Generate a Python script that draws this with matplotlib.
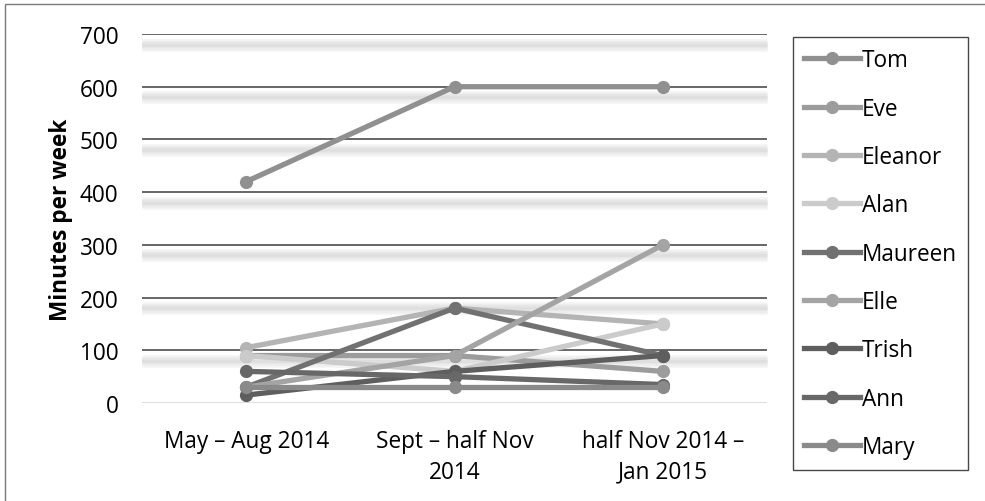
import matplotlib.pyplot as plt
import matplotlib.transforms as mtransforms
from matplotlib.lines import Line2D

periods = ["May – Aug 2014", "Sept – half Nov\n2014", "half Nov 2014 –\nJan 2015"]
names = ["Tom", "Eve", "Eleanor", "Alan", "Maureen", "Elle", "Trish", "Ann", "Mary"]

tom = [420, 600, 600]
eve = [90, 90, 60]
eleanor = [105, 180, 150]
alan = [90, 60, 150]
maureen = [30, 180, 90]
elle = [30, 90, 300]
trish = [15, 60, 90]
ann = [60, 50, 35]
mary = [30, 30, 30]
series = [tom, eve, eleanor, alan, maureen, elle, trish, ann, mary]

colors = ["#909090", "#9c9c9c", "#b4b4b4", "#cbcbcb", "#717171",
          "#a4a4a4", "#5e5e5e", "#686868", "#8a8a8a"]

yticks = [0, 100, 200, 300, 400, 500, 600, 700]

plt.rcParams["font.family"] = ["Open Sans", "DejaVu Sans"]
fs = 16.3

fig = plt.figure(figsize=(9.85, 5.02), dpi=100)
ax = fig.add_axes([142 / 985, 98 / 502, 625 / 985, 369 / 502])

x = list(range(len(periods)))

# gridlines with a soft drop shadow underneath
shadow = ax.get_yaxis_transform() + mtransforms.ScaledTranslation(0, -7.6 / 72, fig.dpi_scale_trans)
for y in yticks[1:]:
    for lw, c in [(9, "#f4f4f4"), (6.5, "#ededed"), (4, "#e5e5e5"), (2, "#dfdfdf")]:
        ax.plot([0, 1], [y, y], transform=shadow, color=c, lw=lw, solid_capstyle="butt",
                zorder=0.5, clip_on=False)
    ax.axhline(y, color="#5a5a5a", lw=1.3, zorder=1)
ax.axhline(0, color="#d9d9d9", lw=1.3, zorder=1)

for name, vals, c in zip(names, series, colors):
    ax.plot(x, vals, color=c, lw=3.8, marker="o", markersize=9.5,
            markeredgewidth=0, label=name, zorder=3, solid_capstyle="round")

ax.set_xlim(-0.5, len(periods) - 0.5)
ax.set_ylim(0, 700)
ax.set_yticks(yticks)
ax.set_xticks(x)
ax.set_xticklabels(periods, fontsize=fs, linespacing=1.36)
ax.tick_params(axis="y", labelsize=fs, length=0, pad=17)
ax.tick_params(axis="x", length=0, pad=19)
for s in ax.spines.values():
    s.set_visible(False)
ax.set_ylabel("Minutes per week", fontsize=fs, fontweight="bold", labelpad=5)

handles = [Line2D([], [], color=c, lw=3.8, marker="o", markersize=9.5, markeredgewidth=0)
           for c in colors]
leg = fig.legend(handles, names, loc="upper left", bbox_to_anchor=(793 / 985, 1 - 38 / 502),
                 fontsize=fs, frameon=True, fancybox=False, edgecolor="#1a1a1a",
                 handlelength=2.45, handletextpad=0.08, labelspacing=1.075,
                 borderpad=0.5, borderaxespad=0)
leg.get_frame().set_linewidth(1.0)

# thin frame around the whole chart
fig.add_artist(plt.Rectangle((5 / 985, -0.05), 1.2, 1 - 5 / 502 + 0.05, transform=fig.transFigure,
                             fill=False, edgecolor="#7a7a7a", lw=1.0))

fig.savefig("out.png", dpi=100)
